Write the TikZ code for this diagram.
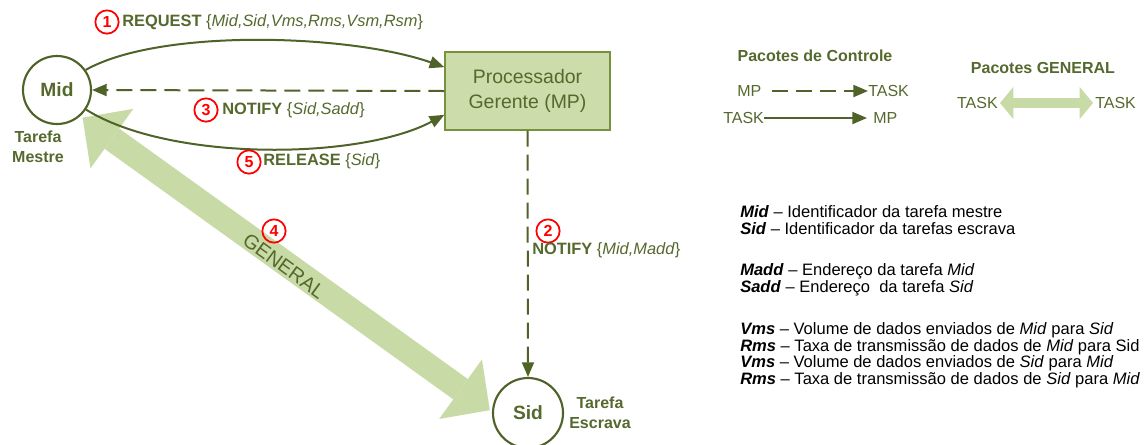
\documentclass[tikz,border=0pt]{standalone}
\usepackage{fontspec}
\setmainfont{Liberation Sans}
\usetikzlibrary{arrows.meta}
\definecolor{olv}{HTML}{55692E}
\definecolor{olvline}{HTML}{4F6228}
\definecolor{boxfill}{HTML}{CCDCAA}
\definecolor{boxdraw}{HTML}{76923C}
\definecolor{genfill}{HTML}{C8DAA6}
\begin{document}
\begin{tikzpicture}[x=0.75pt,y=-0.75pt,
  task/.style={circle,draw=olvline,line width=1.6pt,inner sep=0pt,text=olv,font=\fontsize{14.4}{16}\selectfont\bfseries},
  mpbox/.style={rectangle,draw=boxdraw,line width=1pt,fill=boxfill,minimum width=123.75pt,minimum height=58.5pt,align=center,text=olv,font=\fontsize{14.6}{18.75}\selectfont},
  ctl/.style={draw=olvline,line width=1.5pt,-{Triangle[length=11pt,width=9pt]}},
  ctldash/.style={ctl,dash pattern=on 12pt off 6pt},
  gen/.style={draw=genfill,line width=18.75pt,{Triangle[length=27pt,width=55pt,line width=0pt]}-{Triangle[length=27pt,width=55pt,line width=0pt]}},
  lgen/.style={draw=genfill,line width=7.5pt,{Triangle[length=10pt,width=24pt,line width=0pt]}-{Triangle[length=10pt,width=24pt,line width=0pt]}},
  lbl/.style={anchor=west,inner sep=0pt,text=olv,font=\fontsize{12.3}{14}\selectfont},
  num/.style={circle,draw=red,line width=1.3pt,text=red,inner sep=0pt,minimum size=17.5pt,font=\fontsize{12}{14}\selectfont\bfseries},
  role/.style={align=center,inner sep=0pt,text=olv,font=\fontsize{12}{15}\selectfont\bfseries},
  leg/.style={inner sep=0pt,text=olv,font=\fontsize{12}{14}\selectfont},
  legt/.style={inner sep=0pt,text=olv,font=\fontsize{12}{14}\selectfont\bfseries},
  defn/.style={anchor=west,inner sep=0pt,text=black,font=\fontsize{12.4}{14}\selectfont}
]
\useasboundingbox (0,0) rectangle (1148,444);

\node[task,minimum size=51pt] (Mid) at (57,90) {Mid};
\node[task,minimum size=52.5pt] (Sid) at (528,413) {Sid};
\draw[gen,shorten <=2pt,shorten >=2pt] (Mid.-48) -- (Sid.178);
\node[text=olv,font=\fontsize{15}{18}\selectfont,rotate=-36] (gtxt) at (284,266) {GENERAL};
\node[num] (n4) at (274,231) {4};

\node[mpbox] (MP) at (527.5,91) {Processador\\Gerente (MP)};

\node[role] (tm) at (38,147) {Tarefa\\Mestre};
\node[role] (te) at (600,413) {Tarefa\\Escrava};

\draw[ctl] (Mid.35) .. controls (160,28) and (350,34) .. (MP.164);
\draw[ctldash] (MP.west) -- (Mid.east);
\draw[ctl] (Mid.-34) .. controls (170,162) and (360,160) .. (MP.196);
\draw[ctldash] (MP.south) -- (Sid.north);

\node[num] (n1) at (107,22) {1};
\node[lbl] (l1) at (122,22) {\textbf{REQUEST} \{\textit{Mid,Sid,Vms,Rms,Vsm,Rsm}\}};
\node[num] (n3) at (206,110) {3};
\node[lbl] (l3) at (222,110) {\textbf{NOTIFY} \{\textit{Sid,Sadd}\}};
\node[num] (n5) at (249,162) {5};
\node[lbl] (l5) at (263,161) {\textbf{RELEASE} \{\textit{Sid}\}};
\node[num] (n2) at (548,231) {2};
\node[lbl] (l2) at (532,250) {\textbf{NOTIFY} \{\textit{Mid,Madd}\}};

\node[legt] (lt1) at (815,56) {Pacotes de Controle};
\node[legt] (lt2) at (1043,68) {Pacotes GENERAL};
\node[leg,anchor=west] (lmp1) at (737,91) {MP};
\node[leg,anchor=west] (ltk1) at (868,91) {TASK};
\draw[ctldash,shorten <=7.5pt] (lmp1.east) -- (ltk1.west);
\node[leg,anchor=west] (ltk2) at (723,118) {TASK};
\node[leg,anchor=west] (lmp2) at (873,118) {MP};
\draw[ctl,shorten >=4.5pt] (ltk2.east) -- (lmp2.west);
\node[leg,anchor=east] (ltk3) at (998,103) {TASK};
\node[leg,anchor=west] (ltk4) at (1095,103) {TASK};
\draw[lgen,shorten <=1.5pt,shorten >=1.5pt] (ltk3.east) -- (ltk4.west);

\node[defn] (d1) at (740,212) {\textbf{\textit{Mid}} – Identificador da tarefa mestre};
\node[defn] (d2) at (740,229) {\textbf{\textit{Sid}} – Identificador da tarefas escrava};
\node[defn] (d3) at (740,271) {\textbf{\textit{Madd}} – Endereço da tarefa \textit{Mid}};
\node[defn] (d4) at (740,288) {\textbf{\textit{Sadd}} – Endereço\ \ da tarefa \textit{Sid}};
\node[defn] (d5) at (740,330) {\textbf{\textit{Vms}} – Volume de dados enviados de \textit{Mid} para \textit{Sid}};
\node[defn] (d6) at (740,347) {\textbf{\textit{Rms}} – Taxa de transmissão de dados de \textit{Mid} para Sid};
\node[defn] (d7) at (740,363) {\textbf{\textit{Vms}} – Volume de dados enviados de \textit{Sid} para \textit{Mid}};
\node[defn] (d8) at (740,380) {\textbf{\textit{Rms}} – Taxa de transmissão de dados de \textit{Sid} para \textit{Mid}};
\end{tikzpicture}
\end{document}
